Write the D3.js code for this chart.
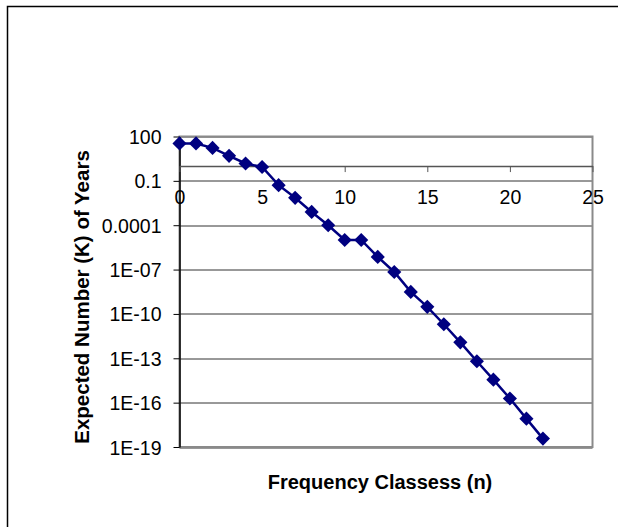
<!DOCTYPE html>
<html>
<head>
<meta charset="utf-8">
<script src="https://cdn.jsdelivr.net/npm/d3@7"></script>
<style>
body { margin: 0; background: #fff; overflow: hidden; }
text { font-family: "Liberation Sans", Arial, sans-serif; fill: #000; }
</style>
</head>
<body>
<div id="chart"></div>
<script>
// frequency class n and expected number of years K
const classes = d3.range(0, 23);
const expectedYears = [
    34, 34, 17, 4.9, 1.5, 0.87, 0.051, 0.0071, 7.9e-4, 1e-4, 1e-5, 1e-5,
    7.2e-7, 6.9e-8, 3.1e-9, 3e-10, 2e-11, 1.2e-12, 6.3e-14, 3.6e-15,
    1.9e-16, 8.3e-18, 3.7e-19
];
const xTicks = [0, 5, 10, 15, 20, 25];
const yTicks = [100, 0.1, 0.0001, 1e-7, 1e-10, 1e-13, 1e-16, 1e-19];
const yTickLabels = ['100', '0.1', '0.0001', '1E-07', '1E-10', '1E-13', '1E-16', '1E-19'];

const W = 618;
const H = 527;
const margin = { left: 179.5, top: 136.5, right: 25.5, bottom: 80 };
const width = W - margin.left - margin.right;
const height = H - margin.top - margin.bottom;

const svg = d3.select('#chart')
    .append('svg')
    .attr('width', W)
    .attr('height', H)
    .style('display', 'block');

// outer chart border, only its top and left edges are inside the picture
svg.append('path')
    .attr('d', 'M7.5,' + (H + 20) + 'V6.5H' + (W + 20))
    .attr('fill', 'none')
    .attr('stroke', '#000')
    .attr('stroke-width', 1.5);

const g = svg.append('g').attr('transform', `translate(${margin.left},${margin.top})`);

const x = d3.scaleLinear().domain([0, 25]).range([0, width]);
const y = d3.scaleLog().domain([1e-19, 100]).range([height, 0]);

// horizontal gridlines
g.selectAll('.grid')
    .data(yTicks)
    .enter()
    .append('line')
    .attr('class', 'grid')
    .attr('x1', 0)
    .attr('x2', width)
    .attr('y1', d => Math.round(y(d)) + 0.5)
    .attr('y2', d => Math.round(y(d)) + 0.5)
    .attr('stroke', '#333')
    .attr('stroke-width', 1);

// plot area border
g.append('rect')
    .attr('width', width)
    .attr('height', height)
    .attr('fill', 'none')
    .attr('stroke', '#8a8a8a')
    .attr('stroke-width', 2);

// y axis
const yAxis = g.append('g')
    .call(d3.axisLeft(y)
        .tickValues(yTicks)
        .tickSize(6)
        .tickSizeOuter(0)
        .tickPadding(12)
        .tickFormat((d, i) => yTickLabels[i]));
yAxis.select('.domain').attr('stroke', '#000').attr('stroke-width', 1.5);
yAxis.selectAll('.tick line').attr('stroke', '#000');
yAxis.selectAll('.tick text')
    .style('font-size', '19.5px')
    .attr('dy', '0.36em');

// x axis crosses at K = 1
const xAxis = g.append('g')
    .attr('transform', `translate(0,${y(1)})`)
    .call(d3.axisBottom(x)
        .tickValues(xTicks)
        .tickSize(6)
        .tickSizeOuter(0)
        .tickPadding(18));
xAxis.select('.domain').attr('stroke', '#555').attr('stroke-width', 1.5);
xAxis.selectAll('.tick line').attr('stroke', '#555');
xAxis.selectAll('.tick text').style('font-size', '19.5px');

// series
const line = d3.line()
    .x((d, i) => x(classes[i]))
    .y(d => y(d));

g.append('path')
    .datum(expectedYears)
    .attr('fill', 'none')
    .attr('stroke', '#000080')
    .attr('stroke-width', 2.5)
    .attr('d', line);

g.selectAll('.marker')
    .data(expectedYears)
    .enter()
    .append('path')
    .attr('class', 'marker')
    .attr('d', d3.symbol(d3.symbolSquare, 100))
    .attr('transform', (d, i) => `translate(${x(classes[i])},${y(d)}) rotate(45)`)
    .attr('fill', '#000080');

// axis titles
svg.append('text')
    .attr('x', 380)
    .attr('y', 489)
    .attr('text-anchor', 'middle')
    .style('font-size', '20px')
    .style('font-weight', 'bold')
    .text('Frequency Classess (n)');

svg.append('text')
    .attr('transform', 'translate(89,297) rotate(-90)')
    .attr('text-anchor', 'middle')
    .style('font-size', '20.5px')
    .style('font-weight', 'bold')
    .text('Expected Number (K) of Years');
</script>
</body>
</html>
